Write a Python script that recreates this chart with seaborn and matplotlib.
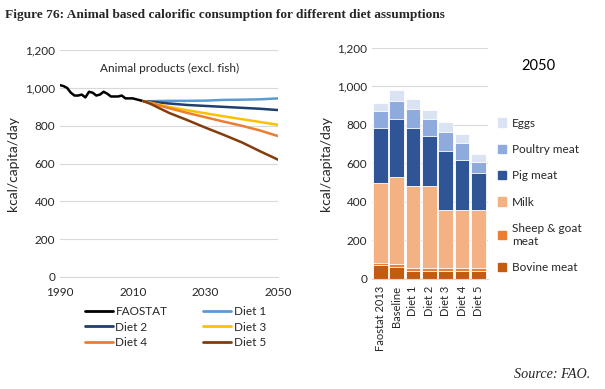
import numpy as np
import pandas as pd
import matplotlib
matplotlib.use("Agg")
from matplotlib import pyplot as plt
from matplotlib.lines import Line2D
from matplotlib.patches import Patch
import seaborn as sns

# ---- data ----
hist_years = list(range(1990, 2014))
faostat = [1015, 1010, 1000, 975, 960, 960, 965, 950, 980, 975, 960, 965,
           980, 970, 955, 955, 955, 960, 945, 945, 945, 940, 935, 930]

proj_years = [2013, 2015, 2020, 2025, 2030, 2035, 2040, 2045, 2050]
diet1 = [930, 930, 932, 932, 933, 937, 938, 940, 945]
diet2 = [930, 927, 918, 910, 905, 900, 895, 890, 883]
diet3 = [930, 922, 900, 882, 866, 850, 835, 820, 805]
diet4 = [930, 920, 893, 868, 845, 822, 800, 775, 745]
diet5 = [930, 915, 868, 830, 790, 752, 712, 665, 620]

bar_cats = ["Faostat 2013", "Baseline", "Diet 1", "Diet 2", "Diet 3", "Diet 4", "Diet 5"]
bovine = [71, 63, 43, 43, 43, 43, 43]
sheep = [14, 17, 16, 16, 16, 16, 16]
milk = [411, 447, 424, 424, 301, 301, 301]
pig = [288, 306, 301, 261, 303, 257, 188]
poultry = [87, 90, 96, 84, 99, 89, 59]
eggs = [44, 56, 56, 50, 52, 47, 40]

line_colors = {"FAOSTAT": "#000000", "Diet 1": "#5B9BD5", "Diet 2": "#1F3F6E",
               "Diet 3": "#FFC000", "Diet 4": "#ED7D31", "Diet 5": "#843C0C"}
bar_colors = {"Bovine meat": "#C55A11", "Sheep & goat\nmeat": "#ED7D31",
              "Milk": "#F4B183", "Pig meat": "#2F5597",
              "Poultry meat": "#8FAADC", "Eggs": "#DAE3F3"}

sns.set_style("white")
plt.rcParams['font.family'] = ['Lato', 'DejaVu Sans']
plt.rcParams['font.size'] = 8.5
grid_c = "#D9D9D9"
text_c = "#262626"

fig = plt.figure(figsize=(6.05, 3.89), dpi=100)
ax1 = fig.add_axes([0.099, 0.288, 0.361, 0.583])
ax2 = fig.add_axes([0.615, 0.283, 0.192, 0.594])

# ---- line chart ----
rows = [pd.DataFrame({"year": hist_years, "kcal": faostat, "series": "FAOSTAT"})]
for name, vals in [("Diet 1", diet1), ("Diet 2", diet2), ("Diet 3", diet3),
                   ("Diet 4", diet4), ("Diet 5", diet5)]:
    rows.append(pd.DataFrame({"year": proj_years, "kcal": vals, "series": name}))
df_lines = pd.concat(rows, ignore_index=True)

sns.lineplot(data=df_lines, x="year", y="kcal", hue="series", palette=line_colors,
             linewidth=1.8, ax=ax1, legend=False)
ax1.set_xlim(1990, 2050)
ax1.set_ylim(0, 1200)
ax1.set_xticks([1990, 2010, 2030, 2050])
ax1.set_yticks(range(0, 1201, 200))
ax1.yaxis.set_major_formatter(matplotlib.ticker.StrMethodFormatter("{x:,.0f}"))
ax1.set_xlabel("")
ax1.set_ylabel("kcal/capita/day", fontsize=10, color=text_c, labelpad=4)
ax1.text(0.5, 0.92, "Animal products (excl. fish)", transform=ax1.transAxes,
         ha="center", va="center", fontsize=8.5, color=text_c)

# ---- stacked bars ----
layers = [("Eggs", eggs), ("Poultry meat", poultry), ("Pig meat", pig),
          ("Milk", milk), ("Sheep & goat\nmeat", sheep), ("Bovine meat", bovine)]
stack = np.array([bovine, sheep, milk, pig, poultry, eggs]).cumsum(axis=0)
tops = stack[::-1]
for (name, _), top in zip(layers, tops):
    sns.barplot(x=bar_cats, y=top, color=bar_colors[name], width=0.9,
                edgecolor="white", linewidth=0.6, saturation=1, ax=ax2)
ax2.set_ylim(0, 1200)
ax2.set_yticks(range(0, 1201, 200))
ax2.yaxis.set_major_formatter(matplotlib.ticker.StrMethodFormatter("{x:,.0f}"))
ax2.set_ylabel("kcal/capita/day", fontsize=10, color=text_c, labelpad=4)
ax2.tick_params(axis="x", rotation=90)
ax2.set_xlim(-0.5, 6.6)
ax2.text(1.43, 0.92, "2050", transform=ax2.transAxes, ha="center", va="center",
         fontsize=10.5, color="black")

for ax in (ax1, ax2):
    ax.grid(axis="y", color=grid_c, linewidth=0.8)
    ax.set_axisbelow(True)
    for s in ["top", "right", "left"]:
        ax.spines[s].set_visible(False)
    ax.spines["bottom"].set_color(grid_c)
    ax.tick_params(length=0, colors=text_c, labelsize=8.5)
ax1.tick_params(axis="x", pad=7)
ax2.tick_params(axis="x", labelsize=8, pad=5)

# ---- legends ----
order = ["FAOSTAT", "Diet 2", "Diet 4", "Diet 1", "Diet 3", "Diet 5"]
handles = [Line2D([], [], color=line_colors[n], linewidth=2) for n in order]
fig.legend(handles, order, loc="upper left", bbox_to_anchor=(0.14, 0.213), ncol=2,
           frameon=False, handlelength=2.4, handletextpad=0.2, columnspacing=3.0,
           labelspacing=0.38, fontsize=8.5, borderaxespad=0, borderpad=0)

bh = [Patch(color=bar_colors[n]) for n, _ in layers]
fig.legend(bh, [n for n, _ in layers], loc="upper left", bbox_to_anchor=(0.805, 0.725),
           frameon=False, handlelength=0.7, handleheight=0.7, handletextpad=0.5,
           labelspacing=1.3, fontsize=8.5)

fig.text(0.008, 0.962, "Figure 76: Animal based calorific consumption for different diet assumptions",
         family="Liberation Serif", fontweight="bold", fontsize=9.6, va="center")
fig.text(0.975, 0.038, "Source: FAO.", family="Liberation Serif", style="italic",
         fontsize=10.2, ha="right", va="center")

fig.savefig("out.png", dpi=100)
